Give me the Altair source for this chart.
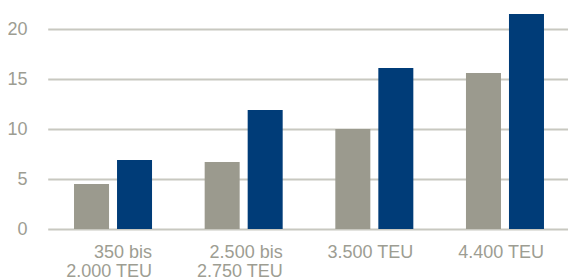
import altair as alt
import pandas as pd

categories = ["350 bis|2.000 TEU", "2.500 bis|2.750 TEU", "3.500 TEU", "4.400 TEU"]
series_names = ["Serie 1", "Serie 2"]
values_gray = [4.5, 6.7, 10.0, 15.6]
values_blue = [6.9, 11.9, 16.1, 21.5]

rows = []
for c, g, b in zip(categories, values_gray, values_blue):
    rows.append({"kategorie": c, "serie": series_names[0], "wert": g})
    rows.append({"kategorie": c, "serie": series_names[1], "wert": b})
df = pd.DataFrame(rows)

text_color = "#9d9d92"
font = "Liberation Sans"

chart = (
    alt.Chart(df)
    .mark_bar()
    .encode(
        x=alt.X(
            "kategorie:N",
            sort=categories,
            scale=alt.Scale(range=[6.7, 529.3], paddingInner=0, paddingOuter=0),
            axis=alt.Axis(
                title=None,
                labelAngle=0,
                labelAlign="right",
                labelOffset=39,
                labelBaseline="top",
                labelPadding=14,
                labelExpr="split(datum.label, '|')",
                labelLineHeight=19,
                labelFont=font,
                labelFontSize=18,
                labelColor=text_color,
                ticks=False,
                domain=False,
                grid=False,
            ),
        ),
        xOffset=alt.XOffset(
            "serie:N",
            sort=series_names,
            scale=alt.Scale(paddingInner=0.186, paddingOuter=0.612),
        ),
        y=alt.Y(
            "wert:Q",
            scale=alt.Scale(domain=[0, 22], nice=False),
            axis=alt.Axis(
                title=None,
                values=[0, 5, 10, 15, 20],
                labelFont=font,
                labelFontSize=18,
                labelColor=text_color,
                labelPadding=14,
                ticks=False,
                domain=False,
                gridColor="#c8c8c0",
                gridWidth=2,
                gridOpacity=1,
            ),
        ),
        color=alt.Color(
            "serie:N",
            sort=series_names,
            scale=alt.Scale(domain=series_names, range=["#9b9a8e", "#003c78"]),
            legend=None,
        ),
    )
    .properties(
        width=527,
        height=220,
        autosize=alt.AutoSizeParams(type="none"),
        padding={"left": 33, "top": 1, "right": 0, "bottom": 51},
    )
    .configure_view(stroke=None)
)

chart.save("out.html", embed_options={"renderer": "svg", "actions": False})
